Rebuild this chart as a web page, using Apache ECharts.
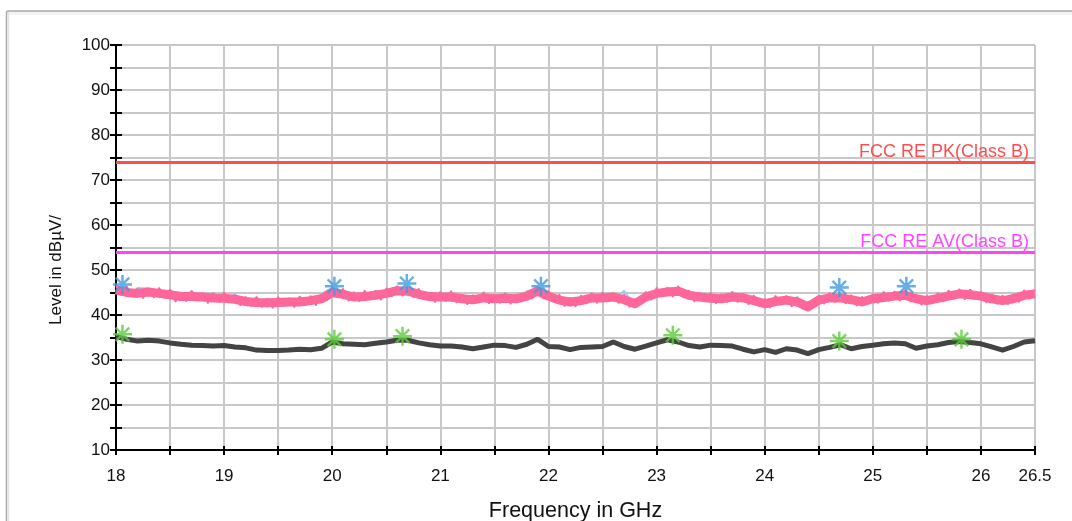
<!DOCTYPE html>
<html>
<head>
<meta charset="utf-8">
<script src="https://cdn.jsdelivr.net/npm/echarts@6.0.0/dist/echarts.min.js"></script>
<style>
  html, body { margin: 0; padding: 0; background: #fff; }
  #chart { width: 1072px; height: 521px; }
</style>
</head>
<body>
<div id="chart"></div>
<script>
// sweep: 18 .. 26.5 GHz
const fineStep = 0.05;
const coarseStep = 0.1;

// peak trace (vertical) - level of the band, one value per 0.1 GHz
const pkBase = [
  45.6, 45.0, 44.8, 45.1, 44.8, 44.5, 44.1, 44.1, 44.0, 43.8,
  43.7, 43.5, 43.0, 42.8, 42.7, 42.8, 42.9, 42.9, 43.2, 43.6,
  45.0, 44.6, 44.0, 44.1, 44.4, 44.8, 45.4, 45.3, 44.6, 44.1,
  44.0, 44.0, 43.6, 43.4, 43.8, 43.6, 43.7, 43.6, 44.2, 45.3,
  44.2, 43.3, 42.9, 43.2, 43.8, 43.8, 44.0, 43.4, 42.5, 44.0,
  44.8, 45.1, 45.3, 44.4, 44.0, 43.7, 43.6, 44.0, 43.8, 43.2,
  42.5, 43.0, 43.3, 42.9, 41.8, 43.3, 43.8, 43.8, 43.4, 42.9,
  43.6, 43.9, 44.2, 44.4, 43.6, 43.2, 43.7, 44.2, 44.7, 44.5,
  44.2, 43.6, 43.2, 43.6, 44.4, 44.7
];

// peak trace (vertical) - noise spikes, one value per 0.05 GHz
const pkNoise = [
  46.8, 44.3, 46.4, 44.1, 45.9, 43.7, 46.0, 43.8, 46.1, 43.7,
  45.7, 42.9, 45.0, 43.0, 45.4, 43.2, 45.0, 42.6, 45.0, 42.8,
  45.1, 42.8, 44.4, 42.1, 44.1, 41.9, 44.1, 41.7, 43.7, 41.5,
  44.0, 42.0, 43.8, 41.7, 44.2, 42.1, 44.3, 42.1, 44.6, 43.2,
  46.2, 43.8, 45.9, 43.1, 45.0, 43.0, 45.5, 43.4, 45.5, 43.3,
  46.0, 44.1, 46.5, 44.2, 46.3, 43.9, 45.9, 43.4, 45.0, 42.8,
  45.2, 43.0, 45.4, 42.7, 44.6, 42.3, 44.5, 42.7, 45.1, 42.5,
  44.6, 42.6, 44.9, 42.4, 44.6, 42.9, 45.3, 43.6, 46.3, 43.7,
  45.4, 42.8, 44.6, 41.9, 43.9, 41.8, 44.4, 42.5, 44.9, 42.6,
  45.1, 42.9, 45.0, 42.6, 44.6, 41.7, 43.6, 42.3, 45.2, 43.3,
  46.1, 44.0, 46.1, 44.0, 46.5, 43.8, 45.5, 42.9, 45.0, 42.9,
  45.0, 42.5, 44.7, 42.8, 45.2, 42.8, 44.8, 42.3, 44.4, 41.9,
  43.6, 41.6, 44.3, 42.2, 44.3, 41.8, 44.0, 41.3, 43.0, 41.6,
  44.4, 42.4, 45.0, 42.8, 44.8, 42.5, 44.5, 42.0, 44.1, 42.3,
  44.7, 42.6, 45.2, 43.1, 45.3, 43.1, 45.6, 42.9, 44.6, 42.2,
  44.3, 42.5, 44.9, 42.9, 45.5, 43.5, 45.8, 43.4, 45.7, 43.4,
  45.2, 42.7, 44.7, 42.4, 44.4, 42.3, 44.7, 42.8, 45.6, 43.6,
  45.7
];

// peak trace (horizontal), one value per 0.1 GHz
const pkHori = [
  46.4, 44.2, 46.0, 45.9, 43.9, 45.6, 43.4, 45.3, 43.3, 44.9,
  43.0, 44.6, 42.2, 43.9, 41.9, 43.8, 42.2, 44.0, 42.5, 44.7,
  46.0, 43.8, 45.1, 43.3, 45.4, 44.0, 46.3, 44.5, 45.7, 43.3,
  45.1, 43.2, 44.8, 42.7, 45.0, 42.9, 44.8, 42.9, 45.2, 46.2,
  43.5, 44.4, 42.2, 44.2, 43.0, 45.0, 43.2, 45.4, 41.8, 45.0,
  44.0, 46.1, 44.6, 45.3, 43.3, 44.8, 42.9, 45.1, 43.1, 44.2,
  41.8, 44.1, 42.6, 44.0, 41.2, 44.3, 43.1, 44.9, 42.7, 43.9,
  42.9, 45.0, 43.5, 45.4, 42.9, 44.2, 43.0, 45.3, 44.0, 45.6,
  43.5, 44.6, 42.5, 44.7, 43.7, 45.5
];

// average traces, one value per 0.1 GHz
const avVert = [
  35.2, 34.6, 34.2, 34.4, 34.2, 33.8, 33.5, 33.3, 33.2, 33.1,
  33.2, 32.9, 32.7, 32.2, 32.1, 32.1, 32.2, 32.4, 32.3, 32.6,
  34.0, 33.6, 33.5, 33.4, 33.7, 34.0, 34.4, 34.4, 33.8, 33.4,
  33.1, 33.1, 32.9, 32.5, 32.9, 33.3, 33.2, 32.8, 33.5, 34.6,
  33.0, 32.9, 32.3, 32.8, 32.9, 33.0, 34.0, 33.0, 32.4, 33.1,
  33.8, 34.5, 34.0, 33.2, 32.9, 33.3, 33.2, 33.1, 32.4, 31.8,
  32.3, 31.7, 32.5, 32.2, 31.4, 32.3, 32.8, 33.4, 32.5, 33.0,
  33.3, 33.6, 33.8, 33.6, 32.6, 33.1, 33.4, 33.9, 34.1, 33.9,
  33.6, 32.9, 32.2, 33.0, 34.0, 34.3
];
const avHori = [
  35.5, 34.3, 34.5, 34.0, 34.5, 33.5, 33.8, 33.0, 33.5, 32.8,
  33.5, 32.6, 33.0, 31.9, 32.4, 31.8, 32.5, 32.0, 32.6, 32.3,
  34.3, 33.3, 33.8, 33.1, 34.0, 33.7, 34.7, 34.1, 34.1, 33.1,
  33.4, 32.8, 33.2, 32.2, 33.2, 33.0, 33.5, 32.5, 33.8, 34.9,
  32.7, 33.2, 32.0, 33.1, 32.6, 33.3, 34.3, 32.7, 32.1, 33.4,
  34.1, 34.8, 33.7, 33.5, 32.6, 33.6, 32.9, 33.4, 32.1, 31.5,
  32.6, 31.4, 32.8, 31.9, 31.1, 32.6, 32.5, 33.7, 32.2, 33.3,
  33.0, 33.9, 33.5, 33.9, 32.3, 33.4, 33.1, 34.2, 33.8, 34.2,
  33.3, 33.2, 31.9, 33.3, 33.7, 34.6
];

// final measurement markers [GHz, dBµV]
const pkMarks = [[18.06, 46.8], [20.02, 46.4], [20.69, 47.0], [21.93, 46.4], [24.69, 46.1], [25.31, 46.4]];
const avMarks = [[18.06, 35.7], [20.02, 34.6], [20.65, 35.3], [23.15, 35.5], [24.69, 34.2], [25.82, 34.6]];

// limits
const limitPK = 74;
const limitAV = 54;

const xMajor = [18, 19, 20, 21, 22, 23, 24, 25, 26, 26.5];

function toXY(vals, step) {
  return vals.map((v, i) => [+(18 + i * step).toFixed(3), v]);
}

const star = 'path://M-1.3,-10L1.3,-10L1.3,10L-1.3,10Z M-10,-1.3L10,-1.3L10,1.3L-10,1.3Z ' +
  'M-8,-6.2L-6.2,-8L8,6.2L6.2,8Z M6.2,-8L8,-6.2L-6.2,8L-8,6.2Z';

const myChart = echarts.init(document.getElementById('chart'));

const gridColor = '#c8c8c8';
const font = 'Liberation Sans, Arial, sans-serif';

const option = {
  animation: false,
  backgroundColor: '#fff',
  grid: { left: 116, right: 37, top: 45, bottom: 71, containLabel: false, outerBoundsMode: 'none' },
  graphic: [
    { type: 'rect', shape: { x: 7, y: 11, width: 1070, height: 4 }, style: { fill: '#f3f3f3' }, silent: true },
    { type: 'line', shape: { x1: 7, y1: 11, x2: 1072, y2: 11 }, style: { stroke: '#aaaaaa', lineWidth: 1.5 }, silent: true },
    { type: 'line', shape: { x1: 6.5, y1: 11, x2: 6.5, y2: 521 }, style: { stroke: '#aaaaaa', lineWidth: 1.5 }, silent: true },
    { type: 'line', shape: { x1: 8.5, y1: 12, x2: 8.5, y2: 521 }, style: { stroke: '#e4e4e4', lineWidth: 1.5 }, silent: true },
    {
      type: 'text', x: 56, y: 270, rotation: Math.PI / 2,
      style: { text: 'Level in dBµV/', font: '17px ' + font, fill: '#111', textAlign: 'center', textVerticalAlign: 'middle' },
    },
  ],
  xAxis: [
    {
      type: 'value', min: 18, max: 26.5, interval: 0.5,
      name: 'Frequency in GHz', nameLocation: 'middle', nameGap: 50,
      nameTextStyle: { fontFamily: font, fontSize: 21.5, color: '#111' },
      axisLine: { show: true, onZero: false, lineStyle: { color: '#000', width: 2 } },
      axisTick: { show: true, length: 5, lineStyle: { color: '#000', width: 2 } },
      axisLabel: {
        margin: 18, fontFamily: font, fontSize: 17, color: '#111',
        formatter: (v) => (xMajor.includes(v) ? String(v) : ''),
      },
      splitLine: { show: true, lineStyle: { color: gridColor, width: 2 } },
    },
    {
      type: 'value', min: 18, max: 26.5, interval: 0.5, position: 'bottom',
      axisLine: { show: false, onZero: false },
      axisTick: { show: true, inside: true, length: 4, lineStyle: { color: '#000', width: 2 } },
      axisLabel: { show: false },
      splitLine: { show: false },
    },
  ],
  yAxis: [
    {
      type: 'value', min: 10, max: 100, interval: 5,
      axisLine: { show: true, onZero: false, lineStyle: { color: '#000', width: 2 } },
      axisTick: { show: true, length: 6, lineStyle: { color: '#000', width: 2 } },
      axisLabel: {
        margin: 6, fontFamily: font, fontSize: 17, color: '#111',
        formatter: (v) => (v % 10 === 0 ? String(v) : ''),
      },
      splitLine: { show: true, lineStyle: { color: gridColor, width: 2 } },
    },
    {
      type: 'value', min: 10, max: 100, interval: 5, position: 'left',
      axisLine: { show: false, onZero: false },
      axisTick: { show: true, inside: true, length: 6, lineStyle: { color: '#000', width: 2 } },
      axisLabel: { show: false },
      splitLine: { show: false },
    },
  ],
  series: [
    {
      name: 'PK horizontal', type: 'line', data: toXY(pkHori, coarseStep),
      showSymbol: false, z: 2,
      lineStyle: { color: '#99ccff', width: 2 },
    },
    {
      name: 'PK vertical', type: 'line', data: toXY(pkBase, coarseStep),
      showSymbol: false, z: 3,
      lineStyle: { color: '#ff6699', width: 9, join: 'round' },
    },
    {
      name: 'PK vertical noise', type: 'line', data: toXY(pkNoise, fineStep),
      showSymbol: false, z: 3,
      lineStyle: { color: '#ff6699', width: 1.5 },
    },
    {
      name: 'AV horizontal', type: 'line', data: toXY(avHori, coarseStep),
      showSymbol: false, z: 2,
      lineStyle: { color: '#77dd44', width: 2 },
    },
    {
      name: 'AV vertical', type: 'line', data: toXY(avVert, coarseStep),
      showSymbol: false, z: 3,
      lineStyle: { color: '#444444', width: 5 },
    },
    {
      name: 'limits', type: 'line', data: [], z: 4,
      markLine: {
        silent: true, symbol: 'none',
        data: [
          {
            yAxis: limitPK, name: 'FCC RE PK(Class B)',
            lineStyle: { color: '#ff4d4d', width: 3, type: 'solid' },
            label: { color: '#ff4d4d' },
          },
          {
            yAxis: limitAV, name: 'FCC RE AV(Class B)',
            lineStyle: { color: '#ff44ff', width: 3, type: 'solid' },
            label: { color: '#ff44ff' },
          },
        ],
        label: {
          show: true, position: 'insideEndTop', formatter: '{b}',
          fontFamily: font, fontSize: 18, distance: [6, 1],
        },
      },
    },
    {
      name: 'PK marks', type: 'scatter', data: pkMarks, z: 5,
      symbol: star, symbolSize: 19,
      itemStyle: { color: '#3d9be0' },
    },
    {
      name: 'AV marks', type: 'scatter', data: avMarks, z: 5,
      symbol: star, symbolSize: 19,
      itemStyle: { color: '#5ccc3a' },
    },
  ],
};

myChart.setOption(option);
</script>
</body>
</html>
